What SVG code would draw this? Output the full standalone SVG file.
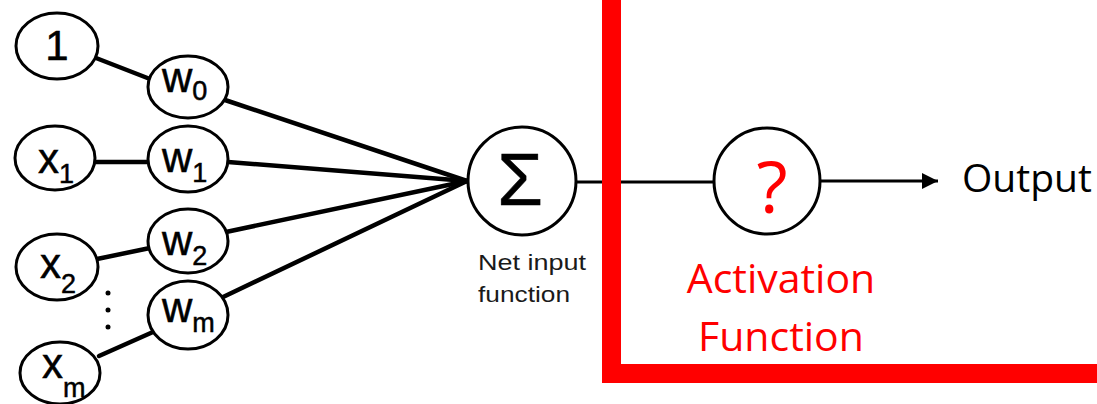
<svg xmlns="http://www.w3.org/2000/svg" width="1097" height="404" viewBox="0 0 1097 404">
  <style>
    .node { fill: #ffffff; stroke: #000000; stroke-width: 3; }
    .edge { stroke: #000000; stroke-width: 4.5; stroke-linecap: round; fill: none; }
    .thin { stroke: #000000; stroke-width: 3; fill: none; }
    .lbl { font-family: "Liberation Sans", Arial, sans-serif; fill: #000000; stroke: #000000; stroke-width: 0.5; }
    .caption { font-family: "Liberation Sans", Arial, sans-serif; fill: #1a1a1a; font-size: 22px; }
    .main { font-size: 42px; }
    .sub { font-size: 27px; }
    .red { font-family: "Open Sans", "Noto Sans", sans-serif; fill: #ff0000; }
    .dark { font-family: "Open Sans", "Noto Sans", sans-serif; fill: #000000; }
  </style>
  <defs>
    <marker id="arrow" viewBox="0 0 10 10" refX="10" refY="5" markerWidth="5.5" markerHeight="5.5" orient="auto" markerUnits="strokeWidth">
      <path d="M0,0 L10,5 L0,10 z" fill="#000000"/>
    </marker>
  </defs>

  <!-- connectors -->
  <g id="connectors">
    <line class="edge" x1="96" y1="58" x2="150" y2="79"/>
    <line class="edge" x1="95" y1="162" x2="148" y2="162"/>
    <line class="edge" x1="97" y1="259" x2="150" y2="248"/>
    <line class="edge" x1="99" y1="356" x2="153" y2="332"/>
    <line class="edge" x1="225" y1="100" x2="467" y2="181"/>
    <line class="edge" x1="228" y1="162" x2="467" y2="181"/>
    <line class="edge" x1="226" y1="232" x2="467" y2="181"/>
    <line class="edge" x1="221" y1="298" x2="467" y2="181"/>
    <line class="thin" x1="577" y1="182" x2="713" y2="182"/>
    <line class="thin" x1="821" y1="181" x2="938" y2="181" marker-end="url(#arrow)"/>
  </g>

  <!-- inputs -->
  <g id="in-bias">
    <ellipse class="node" cx="57" cy="46" rx="41" ry="33"/>
    <text class="lbl main" x="57" y="60" text-anchor="middle">1</text>
  </g>
  <g id="in-x1">
    <ellipse class="node" cx="55" cy="158" rx="40" ry="32"/>
    <text class="lbl" x="38" y="173"><tspan class="main">x</tspan><tspan class="sub" dy="10">1</tspan></text>
  </g>
  <g id="in-x2">
    <ellipse class="node" cx="57" cy="267" rx="41" ry="33"/>
    <text class="lbl" x="40" y="278"><tspan class="main">x</tspan><tspan class="sub" dy="15">2</tspan></text>
  </g>
  <g id="in-xm">
    <ellipse class="node" cx="60" cy="373" rx="40" ry="31"/>
    <text class="lbl" x="42" y="378"><tspan class="main">x</tspan><tspan class="sub" dy="19">m</tspan></text>
  </g>
  <g id="ellipsis">
    <circle cx="108" cy="293" r="2.5" fill="#000000"/>
    <circle cx="108" cy="310" r="2.5" fill="#000000"/>
    <circle cx="108" cy="327" r="2.5" fill="#000000"/>
  </g>

  <!-- weights -->
  <g id="w0">
    <ellipse class="node" cx="188" cy="87" rx="40" ry="31"/>
    <text class="lbl" x="162" y="92"><tspan class="main">w</tspan><tspan class="sub" dy="8">0</tspan></text>
  </g>
  <g id="w1">
    <ellipse class="node" cx="188" cy="159" rx="40" ry="33"/>
    <text class="lbl" x="162" y="172"><tspan class="main">w</tspan><tspan class="sub" dy="10">1</tspan></text>
  </g>
  <g id="w2">
    <ellipse class="node" cx="188" cy="241" rx="40" ry="32"/>
    <text class="lbl" x="162" y="255"><tspan class="main">w</tspan><tspan class="sub" dy="10">2</tspan></text>
  </g>
  <g id="wm">
    <ellipse class="node" cx="188" cy="315" rx="40" ry="34"/>
    <text class="lbl" x="162" y="322"><tspan class="main">w</tspan><tspan class="sub" dy="10">m</tspan></text>
  </g>

  <!-- net input -->
  <g id="net-input">
    <circle class="node" cx="522" cy="181" r="54"/>
    <text class="lbl" x="520" y="205" font-size="74" text-anchor="middle">Σ</text>
    <text class="caption" x="478" y="270" textLength="108" lengthAdjust="spacingAndGlyphs">Net input</text>
    <text class="caption" x="478" y="302" textLength="92" lengthAdjust="spacingAndGlyphs">function</text>
  </g>

  <!-- activation region -->
  <g id="activation-frame">
    <rect x="602" y="0" width="19" height="383" fill="#ff0000"/>
    <rect x="602" y="364" width="495" height="19" fill="#ff0000"/>
  </g>
  <g id="activation">
    <circle class="node" cx="767" cy="181" r="53"/>
    <text class="red" x="772" y="213" font-size="72" text-anchor="middle">?</text>
    <text class="red" x="781" y="293" font-size="41" text-anchor="middle">Activation</text>
    <text class="red" x="781" y="351" font-size="41" text-anchor="middle">Function</text>
  </g>

  <g id="output">
    <text class="dark" x="962" y="192" font-size="39">Output</text>
  </g>
</svg>
